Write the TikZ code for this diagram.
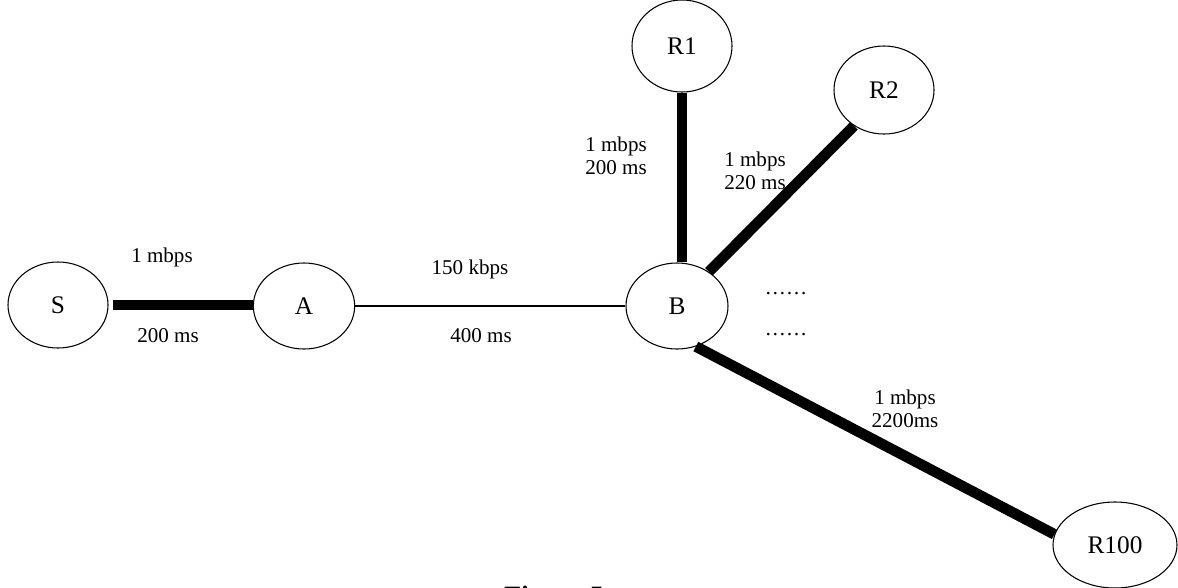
\documentclass[tikz,border=0pt]{standalone}
\usepackage{fontspec}
\setmainfont{Liberation Serif}
\usetikzlibrary{shapes.geometric}
\begin{document}
\begin{tikzpicture}[x=0.75pt,y=-0.75pt,
  nodeell/.style={draw, ellipse, inner sep=0pt, line width=0.8pt, font=\fontsize{19}{22}\selectfont},
  fat/.style={line width=8pt},
  slim/.style={line width=0.8pt},
  lbl/.style={inner sep=0pt, align=center, font=\fontsize{15.8}{17.3}\selectfont},
  dots/.style={inner sep=0pt, anchor=base, font=\fontsize{15.8}{17.3}\selectfont}]
\useasboundingbox (0,0) rectangle (1178,587);
% nodes
\node[nodeell, minimum width=75pt, minimum height=64.5pt] (S) at (58,305) {S};
\node[nodeell, minimum width=76pt, minimum height=64.5pt] (A) at (304,306) {A};
\node[nodeell, minimum width=76.5pt, minimum height=64.5pt] (B) at (677,306) {B};
\node[nodeell, minimum width=75pt, minimum height=69pt] (R1) at (682,46) {R1};
\node[nodeell, minimum width=75pt, minimum height=66pt] (R2) at (884,90) {R2};
\node[nodeell, minimum width=93pt, minimum height=64.5pt] (R100) at (1115,545) {R100};
% connectors
\draw[fat, shorten <=3pt] (S.east) -- (S.east -| A.west);
\draw[slim] (A.east) -- (B.west);
\draw[fat] (R1.south) -- (R1.south |- B.north);
\draw[fat] (B.47) -- (R2.230);
\draw[fat] (B.-65) -- (R100.170);
% labels
\node[lbl] (l1) at (162,257) {1 mbps};
\node[lbl] (l2) at (168,336) {200 ms};
\node[lbl] (l3) at (470,269) {150 kbps};
\node[lbl] (l4) at (481,336) {400 ms};
\node[lbl] (l5) at (616,156) {1 mbps\\200 ms};
\node[lbl] (l6) at (755,171) {1 mbps\\220 ms};
\node[lbl] (l7) at (905,409) {1 mbps\\2200ms};
\node[dots] (d1) at (786,294) {……};
\node[dots] (d2) at (786,335) {……};
\node[inner sep=0pt, anchor=north, font=\fontsize{21}{24}\selectfont\bfseries] (cap) at (554,586) {Figure 5};
\end{tikzpicture}
\end{document}
